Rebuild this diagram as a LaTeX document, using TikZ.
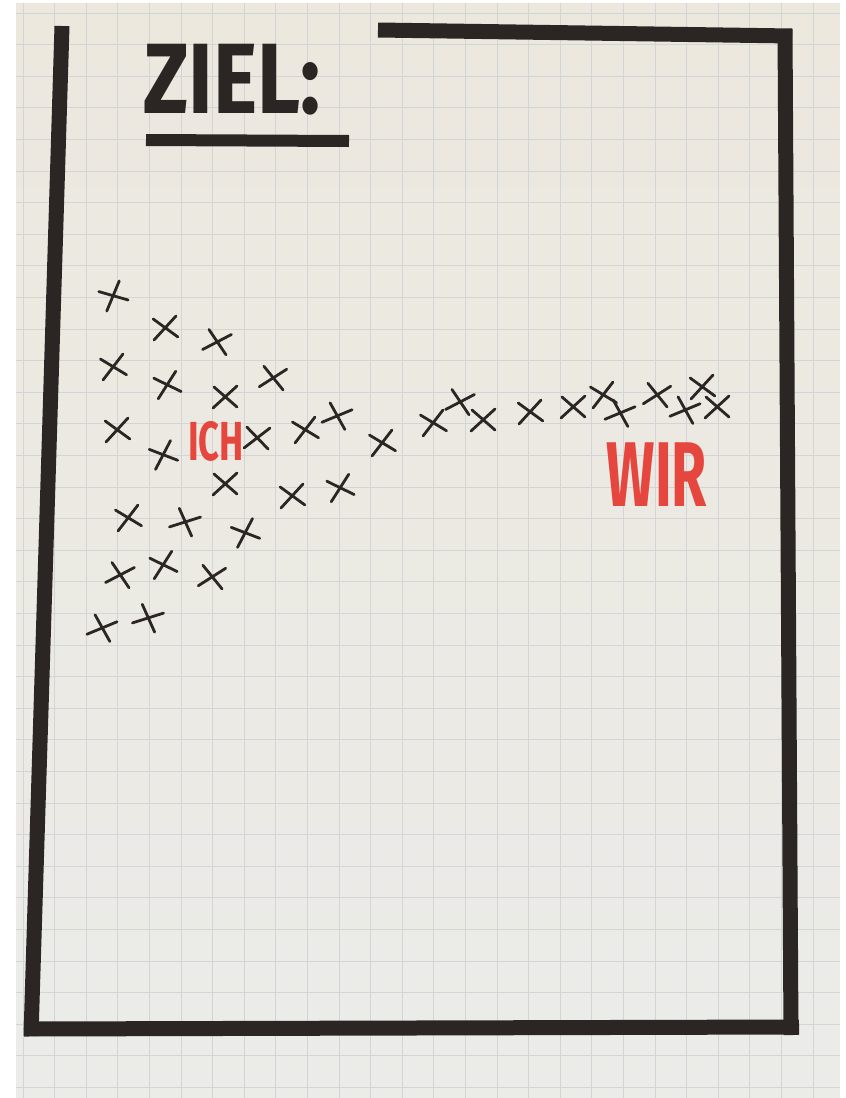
\documentclass[tikz,border=0pt]{standalone}
\usepackage{fontspec}
\usepackage{tikz}
\usetikzlibrary{positioning,calc}
\newfontfamily\handfont{Fira Sans}
\definecolor{marker}{HTML}{2B2624}
\definecolor{redpen}{HTML}{E5463D}
\definecolor{gridline}{HTML}{D2D5D6}
\definecolor{papertop}{HTML}{ECE8DE}
\definecolor{papermid}{HTML}{F5F4F0}
\definecolor{paperbot}{HTML}{EBEBE8}

\begin{document}
\begin{tikzpicture}[x=1pt,y=-1pt,
  framebar/.style={line width=15pt, marker, line cap=butt},
  kreuz/.style={line width=2.8pt, marker, line cap=round},
  redword/.style={font=\handfont\bfseries, text=redpen, inner sep=0pt}]
  \useasboundingbox (0,0) rectangle (846,1098);
  \fill[white] (0,0) rectangle (846,1098);
  % paper and grid
  \shade[top color=papertop, middle color=papermid, bottom color=paperbot] (16,3) rectangle (840,1098);
  \foreach \gx in {0,...,25}
    \draw[gridline, line width=0.8pt] (23+31.6*\gx,3) -- (23+31.6*\gx,1098);
  \foreach \gy in {0,...,34}
    \draw[gridline, line width=0.8pt] (16,13+31.6*\gy) -- (840,13+31.6*\gy);
  % frame
  \draw[framebar] (62,26) -- (31,1036);
  \draw[framebar] (378,30) -- (792,36);
  \draw[framebar] (785,29) -- (791,1035);
  \draw[framebar] (24,1029) -- (799,1027);
  % title
  \node (ziel) [font=\handfont\bfseries\fontsize{100}{100}\selectfont, text=marker, inner sep=0pt, xscale=0.84, anchor=base west] at (143,113) {ZIEL:};
  \draw[line width=12pt, marker] (146,140) -- (349,141);
  % labels
  \node (ich) [redword, font=\handfont\bfseries\fontsize{55}{55}\selectfont, xscale=0.66] at (216,441) {ICH};
  \node (wir) [redword, font=\handfont\bfseries\fontsize{92}{92}\selectfont, xscale=0.62] at (657,475) {WIR};
  % crosses
  \foreach \x/\y/\r in {113/296/25, 165/328/5, 217/342/-15, 113/367/10, 167/385/15,
      225/397/0, 273/378/-10, 117/430/5, 163/455/20, 257/438/-5, 305/430/10,
      337/416/-20, 382/443/10, 225/484/0, 292/496/5, 340/488/15, 128/518/10,
      185/522/-25, 245/533/20, 120/575/-15, 163/565/15, 212/577/-10, 102/628/-20,
      148/618/-25, 433/423/10, 460/402/-15, 483/420/0, 530/412/5, 573/407/0,
      603/395/10, 620/413/-20, 657/395/-10, 702/387/5, 685/410/-20, 717/407/0}
    \draw[kreuz, rotate around={\r:(\x,\y)}] (\x-12,\y+11) -- (\x+12,\y-11) (\x-11,\y-10) -- (\x+12,\y+10);
\end{tikzpicture}
\end{document}
